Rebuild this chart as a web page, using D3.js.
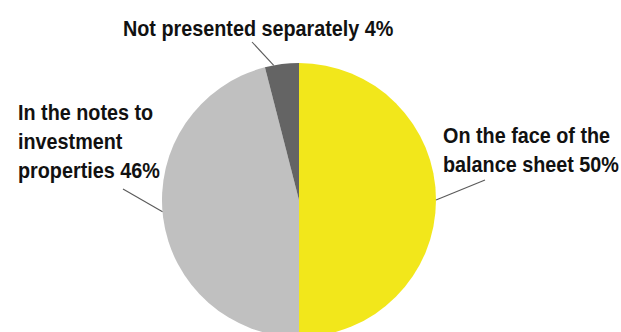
<!DOCTYPE html>
<html>
<head>
<meta charset="utf-8">
<script src="https://cdn.jsdelivr.net/npm/d3@7"></script>
<style>
  body { margin: 0; background: #fff; }
  svg { display: block; }
  .label { font-family: "Liberation Sans", Arial, sans-serif; font-weight: bold; font-size: 21.5px; fill: #111; }
</style>
</head>
<body>
<svg></svg>
<script>
// data, clockwise from 12 o'clock
var categories = ["On the face of the balance sheet", "In the notes to investment properties", "Not presented separately"]
var shares = [50, 46, 4]
var labelLines = [
    ["On the face of the", "balance sheet 50%"],
    ["In the notes to", "investment", "properties 46%"],
    ["Not presented separately 4%"]
]
var colors = ["#f2e71b", "#c0c0c0", "#646464"]

var drawPie = function(target, pieData, radius)
{
    var arc = d3.arc()
        .innerRadius(0)
        .outerRadius(radius)

    target.selectAll("path.slice")
        .data(pieData)
        .enter()
        .append("path")
        .classed("slice", true)
        .attr("d", arc)
        .attr("fill", function(d, i) { return colors[i] })
}

var drawLabels = function(target, pieData, radius, layout, center)
{
    // leader lines from the slice edge to the label
    var edgeAngle = function(d, i) { return (d.startAngle + d.endAngle) / 2 + layout[i].shift }

    target.selectAll("line.leader")
        .data(pieData)
        .enter()
        .append("line")
        .classed("leader", true)
        .attr("x1", function(d, i) { return Math.sin(edgeAngle(d, i)) * radius })
        .attr("y1", function(d, i) { return -Math.cos(edgeAngle(d, i)) * radius })
        .attr("x2", function(d, i) { return layout[i].lx - center.x })
        .attr("y2", function(d, i) { return layout[i].ly - center.y })
        .attr("stroke", "#5a5a5a")
        .attr("stroke-width", 1.1)

    var svg = d3.select("svg")
    labelLines.forEach(function(lines, i) {
        var t = svg.append("text")
            .classed("label", true)
            .attr("x", layout[i].tx)
            .attr("y", layout[i].ty)
        lines.forEach(function(line, j) {
            var span = t.append("tspan")
                .attr("x", layout[i].tx)
                .attr("dy", j == 0 ? 0 : layout[i].lh)
                .text(line)
            // squeeze the taller glyphs a bit, like the condensed original face
            var w = span.node().getComputedTextLength()
            span.attr("textLength", w * 0.92)
                .attr("lengthAdjust", "spacingAndGlyphs")
        })
    })
}

var initGraph = function()
{
    var screen = {width:621, height:332}
    var center = {x:299, y:200}
    var radius = 137

    // label anchors and leader line ends
    var layout = [
        {tx:443, ty:142.5, lh:29, lx:485, ly:180, shift:0},
        {tx:18, ty:120, lh:29, lx:123, ly:189, shift:0.04},
        {tx:123, ty:36, lh:0, lx:252, ly:42, shift:-0.06}
    ]

    d3.select("svg")
        .attr("width", screen.width)
        .attr("height", screen.height)

    var target = d3.select("svg")
        .append("g")
        .attr("id", "graph")
        .attr("transform", "translate(" + center.x + "," + center.y + ")")

    var pie = d3.pie()
        .sort(null)
        .value(function(d) { return d })

    var pieData = pie(shares)

    drawPie(target, pieData, radius)
    drawLabels(target, pieData, radius, layout, center)
}

initGraph()
</script>
</body>
</html>
